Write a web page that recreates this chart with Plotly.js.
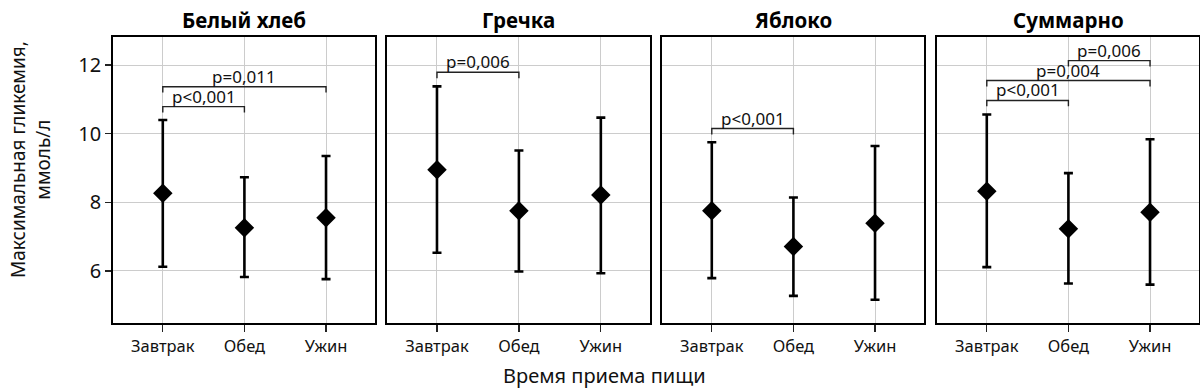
<!DOCTYPE html>
<html>
<head>
<meta charset="utf-8">
<script src="https://cdn.plot.ly/plotly-3.0.1.min.js"></script>
<style>html,body{margin:0;padding:0;background:#fff;}#chart{width:1200px;height:392px;}</style>
</head>
<body>
<div id="chart"></div>
<script>
const categories = ['Завтрак', 'Обед', 'Ужин'];
const panelTitles = ['Белый хлеб', 'Гречка', 'Яблоко', 'Суммарно'];

const breadMean  = [8.26, 7.26, 7.55];
const breadUpper = [10.40, 8.73, 9.35];
const breadLower = [6.12, 5.82, 5.76];

const buckwheatMean  = [8.95, 7.75, 8.21];
const buckwheatUpper = [11.38, 9.51, 10.47];
const buckwheatLower = [6.53, 5.98, 5.93];

const appleMean  = [7.75, 6.71, 7.39];
const appleUpper = [9.75, 8.14, 9.64];
const appleLower = [5.79, 5.27, 5.16];

const totalMean  = [8.32, 7.23, 7.71];
const totalUpper = [10.56, 8.85, 9.84];
const totalLower = [6.11, 5.63, 5.60];

const bracketPanel = [0, 0, 1, 2, 3, 3, 3];
const bracketFrom  = ['Завтрак', 'Завтрак', 'Завтрак', 'Завтрак', 'Завтрак', 'Завтрак', 'Обед'];
const bracketTo    = ['Обед', 'Ужин', 'Обед', 'Обед', 'Обед', 'Ужин', 'Ужин'];
const bracketLevel = [10.79, 11.37, 11.79, 10.15, 10.97, 11.55, 12.13];
const bracketLabel = ['p<0,001', 'p=0,011', 'p=0,006', 'p<0,001', 'p<0,001', 'p=0,004', 'p=0,006'];

const yTicks = [6, 8, 10, 12];
const xAxisTitle = 'Время приема пищи';
const yAxisTitle = 'Максимальная гликемия,<br>ммоль/л';

const means  = [breadMean, buckwheatMean, appleMean, totalMean];
const uppers = [breadUpper, buckwheatUpper, appleUpper, totalUpper];
const lowers = [breadLower, buckwheatLower, appleLower, totalLower];

const FONT = 'Noto Sans, Open Sans, DejaVu Sans, sans-serif';
const W = 1200;
const pxDomains = [[113, 375], [387, 650], [662, 924], [937, 1199]];
const legLen = 0.17;

const traces = [];
const layout = {
  width: 1200, height: 392,
  margin: {l: 0, r: 0, t: 37, b: 69},
  paper_bgcolor: '#fff', plot_bgcolor: '#fff',
  showlegend: false,
  font: {family: FONT, color: '#111'},
  annotations: [], shapes: []
};

for (let p = 0; p < 4; p++) {
  const sfx = p === 0 ? '' : String(p + 1);
  const xa = 'x' + sfx, ya = 'y' + sfx;
  const m = means[p], u = uppers[p], l = lowers[p];
  traces.push({
    type: 'scatter', mode: 'markers', x: categories, y: m,
    xaxis: xa, yaxis: ya,
    marker: {symbol: 'diamond', size: 15, color: '#000'},
    error_y: {type: 'data', symmetric: false,
      array: u.map((v, i) => v - m[i]),
      arrayminus: l.map((v, i) => m[i] - v),
      color: '#000', thickness: 2.6, width: 4.5},
    hoverinfo: 'skip', cliponaxis: false
  });
  const dom = pxDomains[p];
  layout['xaxis' + sfx] = {
    domain: [dom[0] / W, dom[1] / W], anchor: ya,
    type: 'category', categoryorder: 'array', categoryarray: categories,
    range: [-0.61, 2.6],
    showgrid: true, gridcolor: '#cccccc', gridwidth: 1,
    showline: true, linecolor: '#000', linewidth: 1.8, mirror: true,
    ticks: 'outside', ticklen: 7, tickwidth: 1.3, tickcolor: '#222',
    tickfont: {family: FONT, size: 16.5, color: '#111'},
    zeroline: false, fixedrange: true
  };
  layout['yaxis' + sfx] = {
    domain: [0, 1], anchor: xa,
    range: [4.48, 12.82],
    tickvals: yTicks, ticktext: yTicks.map(String),
    showticklabels: p === 0,
    showgrid: true, gridcolor: '#cccccc', gridwidth: 1,
    showline: true, linecolor: '#000', linewidth: 1.8, mirror: true,
    ticks: p === 0 ? 'outside' : '', ticklen: 6, tickwidth: 1.3, tickcolor: '#222',
    tickfont: {family: FONT, size: 20, color: '#111'},
    zeroline: false, fixedrange: true
  };
  layout.annotations.push({
    text: '<b>' + panelTitles[p] + '</b>', xref: 'paper', yref: 'paper',
    x: (dom[0] + dom[1]) / 2 / W, y: 1, xanchor: 'center', yanchor: 'bottom', yshift: 1,
    showarrow: false, font: {family: FONT, size: 20.5, color: '#000'}
  });
}

for (let b = 0; b < bracketLevel.length; b++) {
  const p = bracketPanel[b];
  const sfx = p === 0 ? '' : String(p + 1);
  const lv = bracketLevel[b];
  traces.push({
    type: 'scatter', mode: 'lines',
    x: [bracketFrom[b], bracketFrom[b], bracketTo[b], bracketTo[b]],
    y: [lv - legLen, lv, lv, lv - legLen],
    xaxis: 'x' + sfx, yaxis: 'y' + sfx,
    line: {color: '#222', width: 1.4}, hoverinfo: 'skip'
  });
  const i0 = categories.indexOf(bracketFrom[b]), i1 = categories.indexOf(bracketTo[b]);
  layout.annotations.push({
    text: bracketLabel[b], xref: 'x' + sfx, yref: 'y' + sfx,
    x: (i0 + i1) / 2, y: lv, xanchor: 'center', yanchor: 'bottom', yshift: -3,
    showarrow: false, font: {family: FONT, size: 17, color: '#111'}
  });
}

layout.annotations.push({
  text: xAxisTitle, xref: 'paper', yref: 'paper', x: 604 / W, y: 0,
  xanchor: 'center', yanchor: 'middle', yshift: -52, showarrow: false,
  font: {family: FONT, size: 20, color: '#111'}
});
layout.annotations.push({
  text: yAxisTitle, xref: 'paper', yref: 'paper', x: 31 / W, y: 0.57,
  xanchor: 'center', yanchor: 'middle', textangle: -90, showarrow: false,
  font: {family: FONT, size: 19, color: '#111'}
});

Plotly.newPlot('chart', traces, layout, {displayModeBar: false, staticPlot: true});
</script>
</body>
</html>
